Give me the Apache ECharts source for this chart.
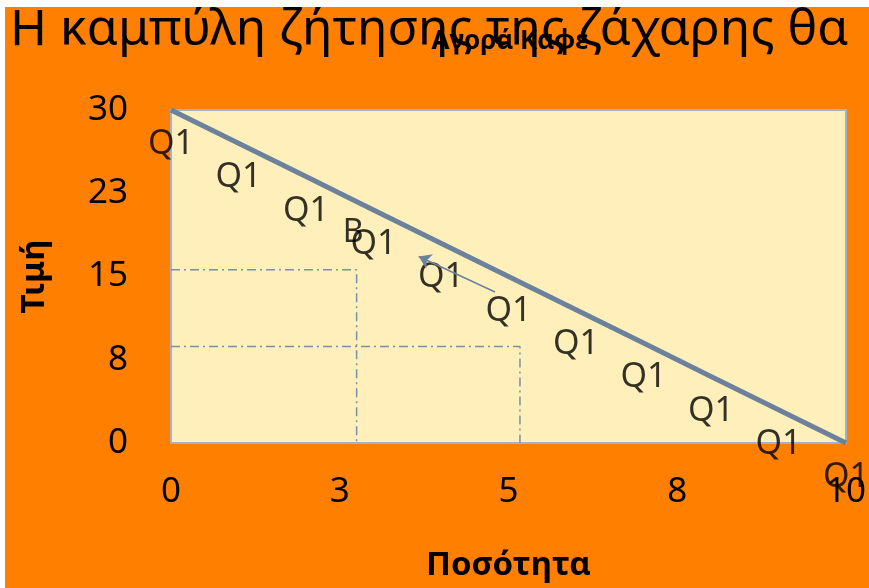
<!DOCTYPE html>
<html>
<head>
<meta charset="utf-8">
<script src="https://cdn.jsdelivr.net/npm/echarts@6/dist/echarts.min.js"></script>
<style>
  html, body { margin: 0; padding: 0; background: #ffffff; }
  #chart { position: absolute; left: 5px; top: 7px; width: 864px; height: 581px; }
</style>
</head>
<body>
<div id="chart"></div>
<script>
// Demand curve points (quantity, price)
const quantity = [0, 1, 2, 3, 4, 5, 6, 7, 8, 9, 10];
const price = [30, 27, 24, 21, 18, 15, 12, 9, 6, 3, 0];
const pointLabel = 'Q1';

// Reference guides (dash-dot): [x, y] corners
const guideA = [[0, 15.6], [2.75, 15.6], [2.75, 0]];
const guideB = [[0, 8.7], [5.17, 8.7], [5.17, 0]];

// Movement arrow along the curve
const arrowFrom = [4.8, 13.6];
const arrowTo = [3.67, 16.8];

// Point marker
const markB = [[2.7, 18.9]];
const markBText = 'B';

const mainTitle = 'Η καμπύλη ζήτησης της ζάχαρης θα';
const subTitle = 'Αγορά Καφέ';
const xName = 'Ποσότητα';
const yName = 'Τιμή';

const FONT = 'Noto Sans';
const chart = echarts.init(document.getElementById('chart'));

chart.setOption({
  backgroundColor: '#ff8000',
  animation: false,
  title: [
    { text: mainTitle, left: 0, top: -6,
      textStyle: { fontFamily: FONT, fontSize: 50, fontWeight: 'normal', color: '#000' } },
    { text: subTitle, left: 500, top: 17, textAlign: 'center',
      textStyle: { fontFamily: FONT, fontSize: 26, fontWeight: 'bold', color: '#000' } }
  ],
  grid: {
    left: 166, right: 19, top: 103, bottom: 145,
    show: true, backgroundColor: '#ffefbb', borderColor: '#9fb3cc', borderWidth: 2
  },
  xAxis: {
    type: 'value', min: 0, max: 10, interval: 2.5,
    name: xName, nameLocation: 'middle', nameGap: 106,
    nameTextStyle: { fontFamily: FONT, fontSize: 33, fontWeight: 'bold', color: '#000' },
    axisLine: { show: false }, axisTick: { show: false }, splitLine: { show: false },
    axisLabel: { margin: 32, fontFamily: FONT, fontSize: 35, color: '#000',
      formatter: v => String(Math.round(v)) }
  },
  yAxis: {
    type: 'value', min: 0, max: 30, interval: 7.5,
    name: yName, nameLocation: 'middle', nameGap: 120, nameRotate: 90,
    nameTextStyle: { fontFamily: FONT, fontSize: 33, fontWeight: 'bold', color: '#000' },
    axisLine: { show: false }, axisTick: { show: false }, splitLine: { show: false },
    axisLabel: { margin: 43, fontFamily: FONT, fontSize: 35, color: '#000',
      formatter: v => String(Math.round(v)) }
  },
  series: [
    {
      type: 'line', data: guideA, symbol: 'none', silent: true,
      lineStyle: { color: '#7a8fa8', width: 1.5, type: [9, 4, 2, 4] }
    },
    {
      type: 'line', data: guideB, symbol: 'none', silent: true,
      lineStyle: { color: '#7a8fa8', width: 1.5, type: [9, 4, 2, 4] }
    },
    {
      type: 'line', data: quantity.map((q, i) => [q, price[i]]),
      symbol: 'none', clip: false,
      lineStyle: { color: '#6b819c', width: 5 },
      markLine: {
        silent: true, symbol: ['none', 'arrow'], symbolSize: 12,
        label: { show: false },
        lineStyle: { color: '#6b819c', width: 1.5, type: 'solid' },
        data: [[{ coord: arrowFrom }, { coord: arrowTo }]]
      }
    },
    {
      type: 'scatter', data: quantity.map((q, i) => [q, price[i]]),
      symbolSize: 1, itemStyle: { color: 'rgba(0,0,0,0)' }, clip: false,
      label: { show: true, position: 'bottom', distance: 17, formatter: pointLabel,
        fontFamily: FONT, fontSize: 34, color: '#000' }
    },
    {
      type: 'scatter', data: markB, symbolSize: 1, itemStyle: { color: 'rgba(0,0,0,0)' },
      label: { show: true, position: 'inside', formatter: markBText,
        fontFamily: FONT, fontSize: 32, color: '#000' }
    }
  ]
});
</script>
</body>
</html>
